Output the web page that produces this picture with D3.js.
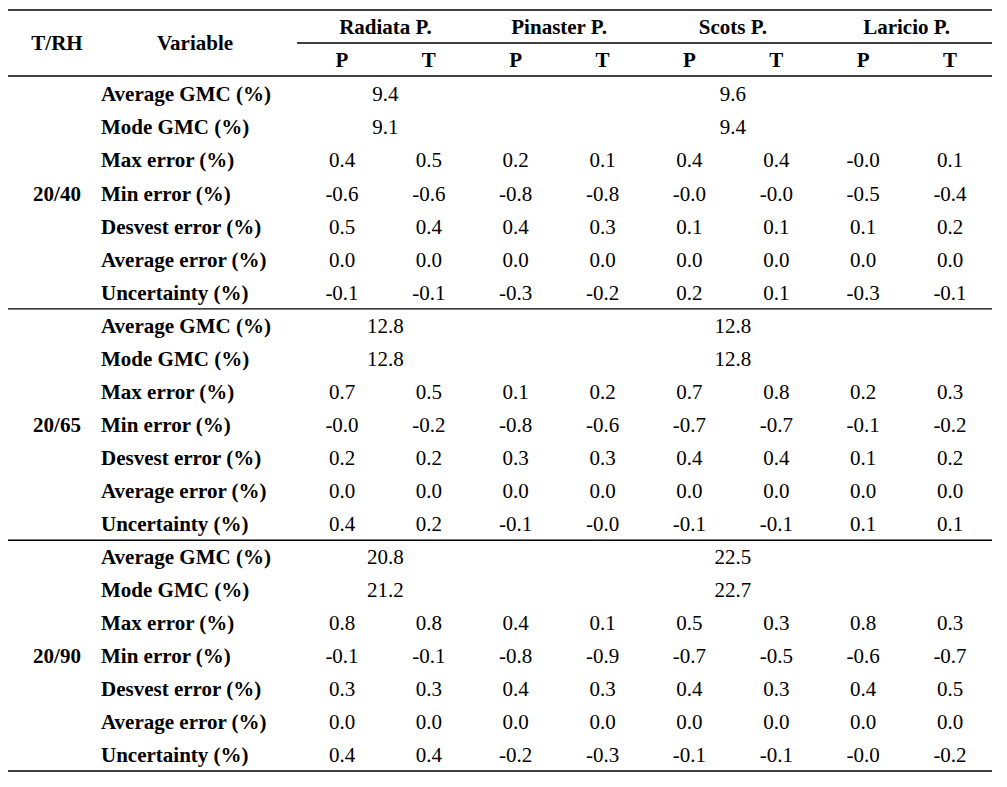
<!DOCTYPE html>
<html>
<head>
<meta charset="utf-8">
<script src="https://cdn.jsdelivr.net/npm/d3@7"></script>
<style>
  body { margin: 0; background: #fff; }
  svg text { font-family: "Liberation Serif", "Times New Roman", serif; font-size: 21px; fill: #000; }
  .b { font-weight: bold; }
</style>
</head>
<body>
<svg id="chart" width="1007" height="787"></svg>
<script>
const species = ['Radiata P.', 'Pinaster P.', 'Scots P.', 'Laricio P.']
const subcols = ['P', 'T']
const blocks = ['20/40', '20/65', '20/90']
const variables = ['Average GMC (%)', 'Mode GMC (%)', 'Max error (%)', 'Min error (%)',
  'Desvest error (%)', 'Average error (%)', 'Uncertainty (%)']

// GMC values only given for Radiata and Scots (merged cells)
const gmcSpecies = ['Radiata P.', 'Scots P.']
const gmcAvg = [['9.4', '9.6'], ['12.8', '12.8'], ['20.8', '22.5']]
const gmcMode = [['9.1', '9.4'], ['12.8', '12.8'], ['21.2', '22.7']]

// rows: max, min, desvest, average, uncertainty ; 8 cols (P,T per species)
const errors4020 = [
  ['0.4', '0.5', '0.2', '0.1', '0.4', '0.4', '-0.0', '0.1'],
  ['-0.6', '-0.6', '-0.8', '-0.8', '-0.0', '-0.0', '-0.5', '-0.4'],
  ['0.5', '0.4', '0.4', '0.3', '0.1', '0.1', '0.1', '0.2'],
  ['0.0', '0.0', '0.0', '0.0', '0.0', '0.0', '0.0', '0.0'],
  ['-0.1', '-0.1', '-0.3', '-0.2', '0.2', '0.1', '-0.3', '-0.1']
]
const errors6520 = [
  ['0.7', '0.5', '0.1', '0.2', '0.7', '0.8', '0.2', '0.3'],
  ['-0.0', '-0.2', '-0.8', '-0.6', '-0.7', '-0.7', '-0.1', '-0.2'],
  ['0.2', '0.2', '0.3', '0.3', '0.4', '0.4', '0.1', '0.2'],
  ['0.0', '0.0', '0.0', '0.0', '0.0', '0.0', '0.0', '0.0'],
  ['0.4', '0.2', '-0.1', '-0.0', '-0.1', '-0.1', '0.1', '0.1']
]
const errors9020 = [
  ['0.8', '0.8', '0.4', '0.1', '0.5', '0.3', '0.8', '0.3'],
  ['-0.1', '-0.1', '-0.8', '-0.9', '-0.7', '-0.5', '-0.6', '-0.7'],
  ['0.3', '0.3', '0.4', '0.3', '0.4', '0.3', '0.4', '0.5'],
  ['0.0', '0.0', '0.0', '0.0', '0.0', '0.0', '0.0', '0.0'],
  ['0.4', '0.4', '-0.2', '-0.3', '-0.1', '-0.1', '-0.0', '-0.2']
]
const errors = [errors4020, errors6520, errors9020]

const svg = d3.select('#chart')

const colKeys = species.flatMap(s => subcols.map(c => s + '|' + c))
const x = d3.scalePoint().domain(colKeys).range([342, 950])
const xSpecies = s => (x(s + '|P') + x(s + '|T')) / 2

const rowKeys = blocks.flatMap(b => variables.map(v => b + '|' + v))
const y = d3.scalePoint().domain(rowKeys).range([94, 755])

// rules
const lines = [
  { x1: 8, x2: 992, y: 10 },
  { x1: 297, x2: 992, y: 43 },
  { x1: 8, x2: 992, y: 76 },
  { x1: 8, x2: 992, y: (y(blocks[0] + '|Uncertainty (%)') + y(blocks[1] + '|Average GMC (%)')) / 2 },
  { x1: 8, x2: 992, y: (y(blocks[1] + '|Uncertainty (%)') + y(blocks[2] + '|Average GMC (%)')) / 2 },
  { x1: 8, x2: 992, y: 771 }
]
svg.selectAll('line.rule').data(lines).enter().append('line')
  .attr('class', 'rule')
  .attr('x1', d => d.x1).attr('x2', d => d.x2)
  .attr('y1', d => d.y).attr('y2', d => d.y)
  .attr('stroke', '#000').attr('stroke-width', 1.4)

// header
svg.append('text').attr('class', 'b').attr('x', 57).attr('y', 43).attr('dy', '0.35em')
  .attr('text-anchor', 'middle').text('T/RH')
svg.append('text').attr('class', 'b').attr('x', 195).attr('y', 43).attr('dy', '0.35em')
  .attr('text-anchor', 'middle').text('Variable')

svg.selectAll('text.sp').data(species).enter().append('text')
  .attr('class', 'sp b')
  .attr('x', d => xSpecies(d)).attr('y', 27).attr('dy', '0.35em')
  .attr('text-anchor', 'middle').text(d => d)

svg.selectAll('text.sub').data(colKeys).enter().append('text')
  .attr('class', 'sub b')
  .attr('x', d => x(d)).attr('y', 60).attr('dy', '0.35em')
  .attr('text-anchor', 'middle').text(d => d.split('|')[1])

// body
blocks.forEach((b, bi) => {
  svg.append('text').attr('class', 'b')
    .attr('x', 57).attr('y', y(b + '|Min error (%)')).attr('dy', '0.35em')
    .attr('text-anchor', 'middle').text(b)

  svg.selectAll('text.var' + bi).data(variables).enter().append('text')
    .attr('class', 'var' + bi + ' b')
    .attr('x', 101).attr('y', d => y(b + '|' + d)).attr('dy', '0.35em')
    .text(d => d)

  const gmc = [
    ...gmcSpecies.map((s, i) => ({ s, v: gmcAvg[bi][i], row: 'Average GMC (%)' })),
    ...gmcSpecies.map((s, i) => ({ s, v: gmcMode[bi][i], row: 'Mode GMC (%)' }))
  ]
  svg.selectAll('text.gmc' + bi).data(gmc).enter().append('text')
    .attr('class', 'gmc' + bi)
    .attr('x', d => xSpecies(d.s)).attr('y', d => y(b + '|' + d.row)).attr('dy', '0.35em')
    .attr('text-anchor', 'middle').text(d => d.v)

  const cells = errors[bi].flatMap((row, ri) => row.map((v, ci) => ({
    v, col: colKeys[ci], row: variables[ri + 2]
  })))
  svg.selectAll('text.cell' + bi).data(cells).enter().append('text')
    .attr('class', 'cell' + bi)
    .attr('x', d => x(d.col)).attr('y', d => y(b + '|' + d.row)).attr('dy', '0.35em')
    .attr('text-anchor', 'middle').text(d => d.v)
})
</script>
</body>
</html>
